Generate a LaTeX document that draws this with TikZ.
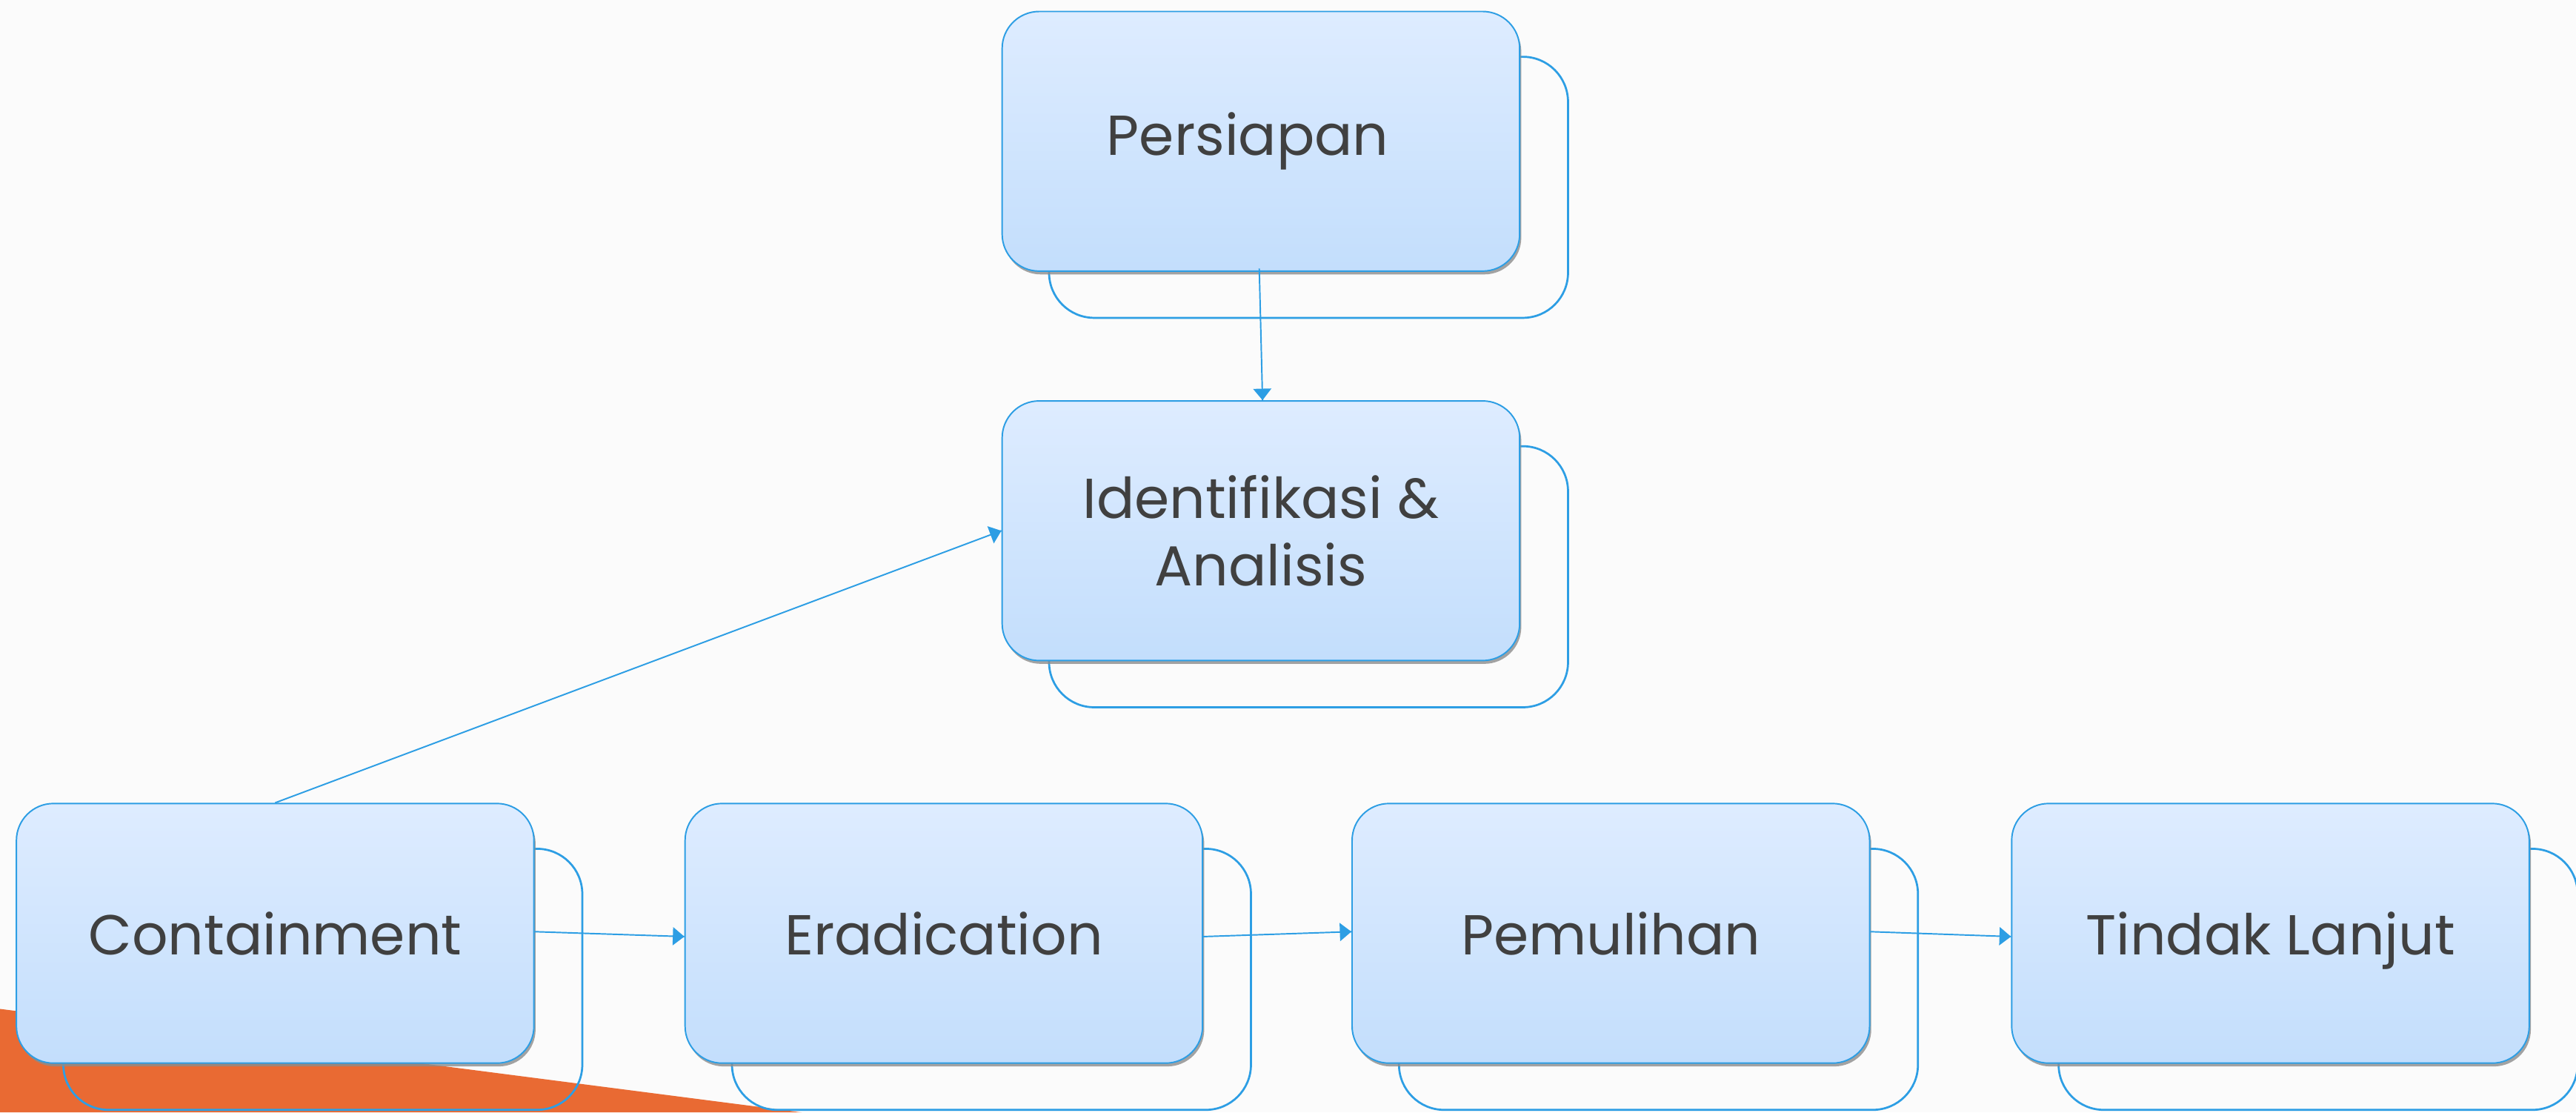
\documentclass[tikz,border=0pt]{standalone}
\usepackage{fontspec}
\setmainfont{Poppins}
\usepackage{tikz}
\usetikzlibrary{arrows}
\usetikzlibrary{arrows.meta}
\usetikzlibrary{calc}
\usetikzlibrary{decorations.markings}
\usetikzlibrary{shadows}
\definecolor{edgeblue}{RGB}{45,158,228}
\definecolor{boxtop}{RGB}{222,236,255}
\definecolor{boxbottom}{RGB}{195,222,252}
\definecolor{textgrey}{RGB}{64,64,64}
\definecolor{pagegrey}{RGB}{251,251,251}
\definecolor{flame}{RGB}{233,106,51}
\pgfdeclarelayer{bg}
\pgfdeclarelayer{back}
\pgfsetlayers{bg,back,main}
\tikzset{box/.style = {draw = edgeblue, line width = 0.5pt, rounded corners = 4.5mm,
                       top color = boxtop, bottom color = boxbottom, text = textgrey,
                       minimum width = 63mm, minimum height = 31.6mm, align = center,
                       font = \fontsize{19.5}{23.5}\selectfont,
                       drop shadow = {shadow xshift = 0.2mm, shadow yshift = -0.4mm,
                                      fill = black!45, opacity = 0.8}}}
\tikzset{backbox/.style = {draw = edgeblue, line width = 0.7pt, rounded corners = 5.5mm}}
\tikzset{link/.style = {draw = edgeblue, line width = 0.5pt,
                        decoration = {markings,
                                      mark = at position 1 with {\arrow{Triangle[length = 1.4mm, width = 2.2mm]}}},
                        postaction = {decorate}}}

\begin{document}
\begin{tikzpicture}[x = 0.2mm, y = -0.2mm]
  \begin{pgfonlayer}{bg}
    \fill [pagegrey] (0, 0) rectangle (1568, 677);
    \fill [flame] (0, 614) -- (488, 677) -- (0, 677) -- cycle;
  \end{pgfonlayer}
  \useasboundingbox (0, 0) rectangle (1568, 677);

  \node [box] (prep) at (767.5, 86) {Persiapan\hspace*{3.2mm}};
  \node [box] (ident) at (767.5, 323) {Identifikasi \&\\Analisis};
  \node [box] (contain) at (167.5, 568) {Containment};
  \node [box] (erad) at (574.5, 568) {Eradication};
  \node [box] (recover) at (980.5, 568) {Pemulihan};
  \node [box, text depth = 0pt] (follow) at (1382, 568) {Tindak Lanjut};

  \begin{pgfonlayer}{back}
    \foreach \n in {prep, ident, contain, erad, recover, follow}
      \draw [backbox] ($(\n.north west) + (29, 28)$) rectangle ($(\n.south east) + (29, 28)$);
  \end{pgfonlayer}

  \draw [link] ($(prep.south) + (-1, -2)$) -- ($(ident.north) + (1, 0)$);
  \draw [link] (contain.north) -- (ident.west);
  \draw [link] ($(contain.east) + (0, -1)$) -- ($(erad.west) + (0, 2)$);
  \draw [link] ($(erad.east) + (0, 2)$) -- ($(recover.west) + (0, -1)$);
  \draw [link] ($(recover.east) + (0, -1)$) -- ($(follow.west) + (0, 2)$);
\end{tikzpicture}
\end{document}
